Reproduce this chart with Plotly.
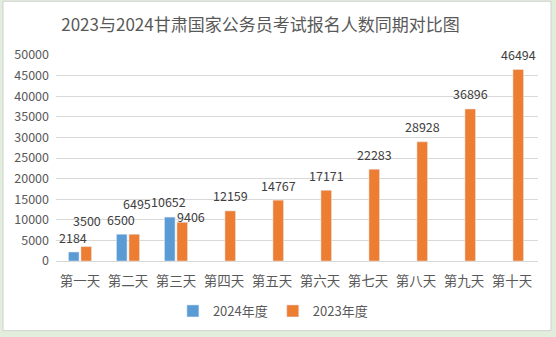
import plotly.graph_objects as go

# Category labels and registration counts
days = ["第一天", "第二天", "第三天", "第四天", "第五天",
        "第六天", "第七天", "第八天", "第九天", "第十天"]
counts_2024 = [2184, 6500, 10652]
counts_2023 = [3500, 6495, 9406, 12159, 14767, 17171, 22283, 28928, 36896, 46494]

series_names = ["2024年度", "2023年度"]
colors = ["#5B9BD5", "#ED7D31"]

FONT = "Noto Sans CJK SC"
GRAY = "#595959"

# Plot geometry (pixels)
W, H = 556, 337
L, R, T, B = 56, 18, 55, 75
plot_w, plot_h = W - L - R, H - T - B

fig = go.Figure()
fig.add_trace(go.Bar(x=days[:len(counts_2024)], y=counts_2024, name=series_names[0],
                     marker_color=colors[0]))
fig.add_trace(go.Bar(x=days, y=counts_2023, name=series_names[1],
                     marker_color=colors[1]))

# Value labels above each bar; small nudges where neighbouring labels collide
bar_shift = 6.5
nudge_2024 = {0: (-1, 0), 1: (-1, 0), 2: (-1, 1)}
nudge_2023 = {0: (0, 11), 1: (2, 16), 2: (8, -9)}
annotations = []
for series, sign, nudge in ((counts_2024, -1, nudge_2024), (counts_2023, 1, nudge_2023)):
    for i, v in enumerate(series):
        dx, dy = nudge.get(i, (0, 0))
        annotations.append(dict(
            x=days[i], y=v, xref="x", yref="y", text=str(v), showarrow=False,
            xshift=sign * bar_shift + dx, yshift=15 + dy, yanchor="middle",
            font=dict(family=FONT, size=12.5, color="#404040"),
        ))

fig.update_layout(
    width=W, height=H,
    margin=dict(l=L, r=R, t=T, b=B),
    paper_bgcolor="#E2EEDC",
    plot_bgcolor="white",
    barmode="group",
    bargap=0.48,
    bargroupgap=0.15,
    title=dict(text="2023与2024甘肃国家公务员考试报名人数同期对比图",
               x=260.5 / W, xref="container", xanchor="center",
               y=1 - 25 / H, yref="container", yanchor="middle",
               font=dict(family=FONT, size=17, color=GRAY)),
    font=dict(family=FONT, color=GRAY),
    legend=dict(orientation="h", x=0.45, xanchor="center",
                y=(262 - 311) / plot_h, yanchor="middle",
                font=dict(family=FONT, size=13, color=GRAY),
                bgcolor="rgba(0,0,0,0)", itemwidth=30, traceorder="normal"),
    annotations=annotations,
    shapes=[dict(type="rect", xref="paper", yref="paper",
                 x0=(3 - L) / plot_w, x1=(551 - L) / plot_w,
                 y0=(262 - 332) / plot_h, y1=(262 - 1) / plot_h,
                 fillcolor="white", line=dict(color="#D0D0D0", width=1),
                 layer="below")],
)

fig.update_xaxes(
    showgrid=False, showline=True, linecolor="#D9D9D9", linewidth=1,
    ticks="", tickfont=dict(family=FONT, size=13.5, color=GRAY),
    ticklabelstandoff=8,
)
fig.update_yaxes(
    range=[0, 50000], dtick=5000, tickformat="d", showgrid=True, gridcolor="#D9D9D9",
    zeroline=False, showline=False, ticks="",
    tickfont=dict(family=FONT, size=12.5, color=GRAY),
    ticklabelstandoff=6,
)

fig.write_html("out.html")
